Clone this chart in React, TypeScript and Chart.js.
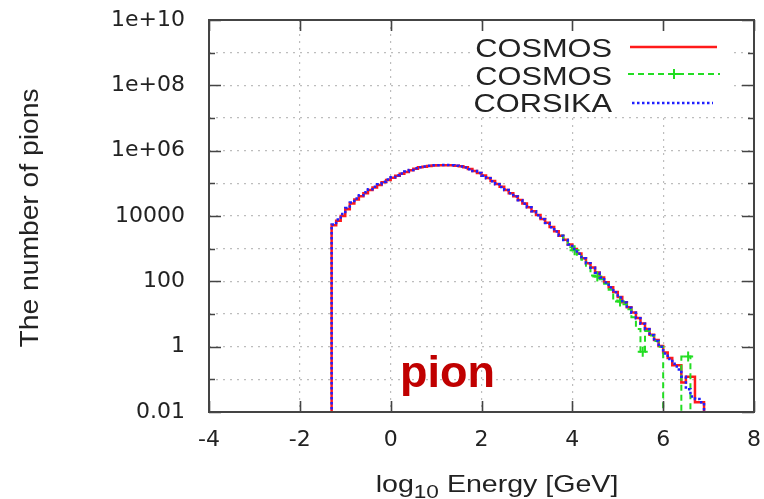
import { useEffect, useRef } from 'react';
import { Chart, registerables } from 'chart.js';

Chart.register(...registerables);

// log10 energy bin centres [GeV]
const binCenters = [
  -1.35, -1.25, -1.15, -1.05, -0.95, -0.85, -0.75, -0.65, -0.55, -0.45,
  -0.35, -0.25, -0.15, -0.05, 0.05, 0.15, 0.25, 0.35, 0.45, 0.55,
  0.65, 0.75, 0.85, 0.95, 1.05, 1.15, 1.25, 1.35, 1.45, 1.55,
  1.65, 1.75, 1.85, 1.95, 2.05, 2.15, 2.25, 2.35, 2.45, 2.55,
  2.65, 2.75, 2.85, 2.95, 3.05, 3.15, 3.25, 3.35, 3.45, 3.55,
  3.65, 3.75, 3.85, 3.95, 4.05, 4.15, 4.25, 4.35, 4.45, 4.55,
  4.65, 4.75, 4.85, 4.95, 5.05, 5.15, 5.25, 5.35, 5.45, 5.55,
  5.65, 5.75, 5.85, 5.95, 6.05, 6.15, 6.25, 6.35, 6.45, 6.55,
  6.65, 6.75, 6.85, 6.95,
];

// COSMOS (red, solid)
const cosmosCounts = [
  0.0001, 5200, 7100, 10000, 16000, 24000, 32000, 40000, 50000, 62000,
  74000, 89000, 107000, 126000, 148000, 170000, 195000, 224000, 251000, 282000,
  309000, 324000, 339000, 351000, 355000, 359000, 359000, 355000, 347000, 331000,
  309000, 275000, 240000, 209000, 174000, 145000, 117000, 95000, 78000, 63000,
  50000, 40000, 31000, 24000, 18600, 14100, 10700, 8100, 6200, 4600,
  3400, 2500, 1860, 1350, 980, 710, 510, 360, 263, 186,
  132, 93, 66, 47, 33, 23, 16, 11.2, 7.6, 5.1,
  3.5, 2.3, 1.6, 1.05, 0.66, 0.45, 0.27, 0.27, 0.08, 0.12,
  0.12, 0.02, 0.02, 0.0001,
];

// CORSIKA (blue, dotted)
const corsikaCounts = [
  0.0001, 5500, 7800, 11500, 17500, 26000, 34500, 43000, 53500, 66000,
  79000, 94000, 112000, 131000, 153000, 176000, 200000, 229000, 257000, 288000,
  313000, 330000, 343000, 355000, 360000, 363000, 361000, 356000, 347000, 330000,
  306000, 272000, 237000, 206000, 172000, 143000, 116000, 94000, 77000, 62000,
  49500, 39500, 30500, 23800, 18400, 14000, 10600, 8000, 6100, 4550,
  3350, 2480, 1830, 1340, 970, 700, 505, 355, 260, 184,
  130, 92, 65, 46, 32, 22.5, 15.5, 11, 7.4, 5.0,
  3.4, 2.25, 1.5, 1.0, 0.62, 0.42, 0.3, 0.2, 0.12, 0.05,
  0.03, 0.025, 0.02, 0.0001,
];

// COSMOS second sample (green, dashed with + points)
const cosmos2Centers = [
  3.75, 3.85, 3.95, 4.05, 4.15, 4.25, 4.35, 4.45, 4.55, 4.65,
  4.75, 4.85, 4.95, 5.05, 5.15, 5.25, 5.35, 5.45, 5.55, 5.65,
  5.75, 5.85, 5.95, 6.05, 6.15, 6.25, 6.35, 6.45, 6.55, 6.65,
  6.75, 6.85,
];
const cosmos2Counts = [
  2500, 1850, 1100, 900, 650, 460, 300, 150, 140, 115,
  85, 55, 26, 24, 20, 14, 8, 3.5, 0.7, 3,
  2.2, 1.5, 1.0, 0.0001, 0.0001, 0.0001, 0.0001, 0.5, 0.5, 0.0001,
  0.0001, 0.0001,
];
const cosmos2MarkerAt = [4.05, 4.55, 5.05, 5.55, 6.55];

const xTicks = [-4, -2, 0, 2, 4, 6, 8];
const yTickValues = [1e-2, 1e-1, 1, 1e1, 1e2, 1e3, 1e4, 1e5, 1e6, 1e7, 1e8, 1e9, 1e10];
const yTickLabels = ['0.01', '', '1', '', '100', '', '10000', '', '1e+06', '', '1e+08', '', '1e+10'];

const legendNames = ['COSMOS', 'COSMOS', 'CORSIKA'];
const yTitle = 'The number of pions';
const xTitleParts = ['log', '10', ' Energy [GeV]'];
const overlayLabel = 'pion';

const RED = '#ff1a1a';
const GREEN = '#22dd22';
const BLUE = '#2020ff';
const TEXT = '#222222';
const SANS = '"Liberation Sans", Arial, sans-serif';

const decorPlugin = {
  id: 'decor',
  beforeDatasetsDraw(chart: any) {
    const ctx = chart.ctx;
    ctx.save();
    ctx.fillStyle = '#ffffff';
    ctx.fillRect(473, 27, 258, 87);
    ctx.restore();
  },
  afterDatasetsDraw(chart: any) {
    const ctx = chart.ctx;
    ctx.save();
    const rows = [
      { base: 57, mid: 47, color: RED, dash: [] as number[], w: 2.5, x1: 630, x2: 717, marker: false },
      { base: 85, mid: 74, color: GREEN, dash: [6, 4], w: 2, x1: 628, x2: 720, marker: true },
      { base: 112, mid: 103, color: BLUE, dash: [2.5, 2.5], w: 2.5, x1: 632, x2: 713, marker: false },
    ];
    rows.forEach((r, i) => {
      ctx.save();
      ctx.translate(612, r.base);
      ctx.scale(1.23, 1);
      ctx.font = `25px ${SANS}`;
      ctx.fillStyle = TEXT;
      ctx.textAlign = 'right';
      ctx.textBaseline = 'alphabetic';
      ctx.fillText(legendNames[i], 0, 0);
      ctx.restore();
      ctx.save();
      ctx.strokeStyle = r.color;
      ctx.lineWidth = r.w;
      ctx.setLineDash(r.dash);
      ctx.beginPath();
      ctx.moveTo(r.x1, r.mid);
      ctx.lineTo(r.x2, r.mid);
      ctx.stroke();
      if (r.marker) {
        ctx.setLineDash([]);
        const cx = (r.x1 + r.x2) / 2;
        ctx.beginPath();
        ctx.moveTo(cx - 5, r.mid);
        ctx.lineTo(cx + 5, r.mid);
        ctx.moveTo(cx, r.mid - 5);
        ctx.lineTo(cx, r.mid + 5);
        ctx.stroke();
      }
      ctx.restore();
    });
    ctx.restore();
  },
  afterDraw(chart: any) {
    const ctx = chart.ctx;
    const { left, right, top, bottom } = chart.chartArea;
    const xs = chart.scales.x;
    const ys = chart.scales.y;
    ctx.save();
    ctx.strokeStyle = '#444444';
    ctx.lineWidth = 1.6;
    ctx.setLineDash([]);
    ctx.beginPath();
    yTickValues.forEach((v, i) => {
      const py = Math.round(ys.getPixelForValue(v)) + 0.5;
      const len = yTickLabels[i] ? 12 : 6;
      ctx.moveTo(left, py);
      ctx.lineTo(left + len, py);
      ctx.moveTo(right, py);
      ctx.lineTo(right - len, py);
    });
    xTicks.forEach((v) => {
      const px = Math.round(xs.getPixelForValue(v)) + 0.5;
      ctx.moveTo(px, bottom);
      ctx.lineTo(px, bottom - 11);
      ctx.moveTo(px, top);
      ctx.lineTo(px, top + 11);
    });
    ctx.stroke();
    ctx.lineWidth = 2;
    ctx.strokeRect(left, top, right - left, bottom - top);

    // y title
    ctx.save();
    ctx.translate(31, 218);
    ctx.rotate(-Math.PI / 2);
    ctx.scale(1.13, 1);
    ctx.font = `25px ${SANS}`;
    ctx.fillStyle = TEXT;
    ctx.textAlign = 'center';
    ctx.textBaseline = 'middle';
    ctx.fillText(yTitle, 0, 0);
    ctx.restore();

    // x title with subscript
    ctx.save();
    const sx = 1.19;
    const mainFont = `24px ${SANS}`;
    const subFont = `19px ${SANS}`;
    ctx.font = mainFont;
    const w1 = ctx.measureText(xTitleParts[0]).width;
    const w3 = ctx.measureText(xTitleParts[2]).width;
    ctx.font = subFont;
    const w2 = ctx.measureText(xTitleParts[1]).width;
    const total = (w1 + w2 + w3) * sx;
    ctx.translate(497 - total / 2, 492);
    ctx.scale(sx, 1);
    ctx.fillStyle = TEXT;
    ctx.textAlign = 'left';
    ctx.textBaseline = 'alphabetic';
    ctx.font = mainFont;
    ctx.fillText(xTitleParts[0], 0, 0);
    ctx.font = subFont;
    ctx.fillText(xTitleParts[1], w1, 6);
    ctx.font = mainFont;
    ctx.fillText(xTitleParts[2], w1 + w2, 0);
    ctx.restore();

    // overlay label
    ctx.font = `bold 45px ${SANS}`;
    ctx.fillStyle = '#c00000';
    ctx.textAlign = 'left';
    ctx.textBaseline = 'alphabetic';
    ctx.fillText(overlayLabel, 400, 387);
    ctx.restore();
  },
};

export default function App() {
  const ref = useRef<HTMLCanvasElement | null>(null);

  useEffect(() => {
    if (!ref.current) return;
    const tickFont = { family: '"DejaVu Sans", sans-serif', size: 22 };
    const chart = new Chart(ref.current, {
      type: 'line',
      data: {
        datasets: [
          {
            label: legendNames[0],
            data: binCenters.map((x, i) => ({ x, y: cosmosCounts[i] })),
            borderColor: RED,
            borderWidth: 2.5,
            pointRadius: 0,
            stepped: 'middle',
            fill: false,
            order: 3,
          },
          {
            label: legendNames[1],
            data: cosmos2Centers.map((x, i) => ({ x, y: cosmos2Counts[i] })),
            borderColor: GREEN,
            borderWidth: 2,
            borderDash: [6, 4],
            pointStyle: 'cross',
            pointRadius: (c: any) => (c.raw && cosmos2MarkerAt.includes(c.raw.x) ? 5 : 0),
            pointBorderColor: GREEN,
            pointBorderWidth: 2,
            stepped: 'middle',
            fill: false,
            order: 2,
          },
          {
            label: legendNames[2],
            data: binCenters.map((x, i) => ({ x, y: corsikaCounts[i] })),
            borderColor: BLUE,
            borderWidth: 2.5,
            borderDash: [2.5, 2.5],
            pointRadius: 0,
            stepped: 'middle',
            fill: false,
            order: 1,
          },
        ],
      },
      options: {
        animation: false,
        responsive: false,
        devicePixelRatio: 1,
        layout: { padding: { left: 0, right: 10, top: 20, bottom: 0 } },
        plugins: { legend: { display: false }, tooltip: { enabled: false } },
        scales: {
          x: {
            type: 'linear',
            min: -4,
            max: 8,
            afterBuildTicks: (s: any) => {
              s.ticks = xTicks.map((v) => ({ value: v }));
            },
            afterFit: (s: any) => {
              s.height = 87;
              s.paddingLeft = 0;
              s.paddingRight = 0;
            },
            ticks: {
              font: tickFont,
              color: TEXT,
              padding: 15,
              maxRotation: 0,
              autoSkip: false,
              callback: (v: any) => String(v),
            },
            grid: { color: '#bdbdbd', lineWidth: 1.2, drawTicks: false },
            border: { display: false, dash: [2, 5] },
          },
          y: {
            type: 'logarithmic',
            min: 0.01,
            max: 1e10,
            afterBuildTicks: (s: any) => {
              s.ticks = yTickValues.map((v) => ({ value: v }));
            },
            afterFit: (s: any) => {
              s.width = 209;
              s.paddingTop = 0;
              s.paddingBottom = 0;
            },
            ticks: {
              font: tickFont,
              color: TEXT,
              padding: 24,
              autoSkip: false,
              callback: (_v: any, i: number) => yTickLabels[i],
            },
            grid: { color: '#bdbdbd', lineWidth: 1.2, drawTicks: false },
            border: { display: false, dash: [2, 5] },
          },
        },
      },
      plugins: [decorPlugin],
    } as any);
    return () => chart.destroy();
  }, []);

  return (
    <div style={{ position: 'fixed', left: 0, top: 0, width: 764, height: 499, background: '#ffffff' }}>
      <canvas ref={ref} width={764} height={499} style={{ display: 'block' }} />
    </div>
  );
}
